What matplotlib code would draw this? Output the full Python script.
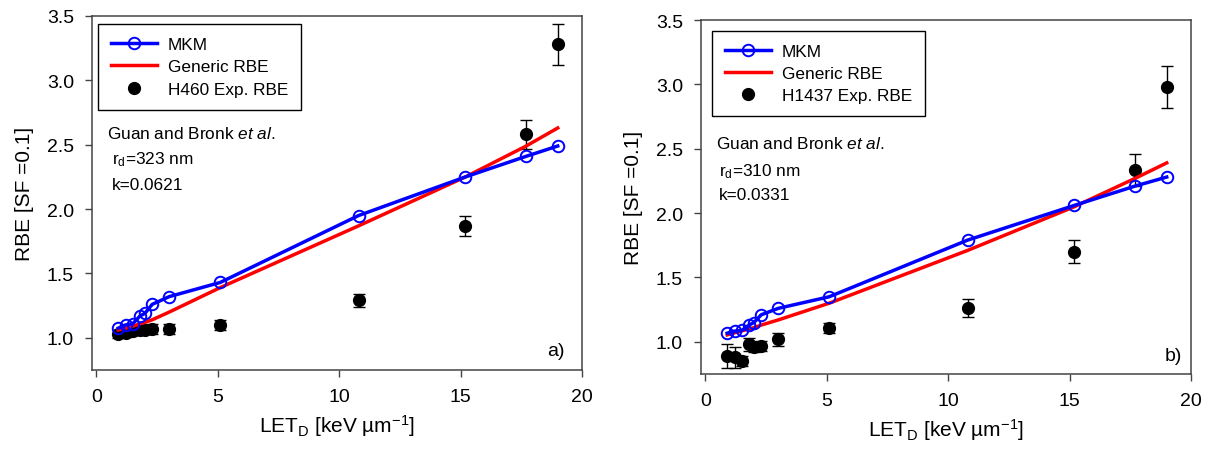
import matplotlib
matplotlib.use('Agg')
import matplotlib.pyplot as plt

plt.rcParams['font.family'] = ['Liberation Sans', 'DejaVu Sans']
plt.rcParams['mathtext.fontset'] = 'custom'
plt.rcParams['mathtext.rm'] = 'Liberation Sans'
plt.rcParams['mathtext.it'] = 'Liberation Sans:italic'
plt.rcParams['mathtext.bf'] = 'Liberation Sans:bold'

# ---- data ----
let_vals = [0.9, 1.2, 1.5, 1.8, 2.0, 2.3, 3.0, 5.1, 10.8, 15.2, 17.7, 19.0]

mkm_a = [1.075, 1.10, 1.11, 1.17, 1.19, 1.26, 1.32, 1.43, 1.95, 2.25, 2.41, 2.49]
gen_a = [1.06, 1.075, 1.09, 1.11, 1.12, 1.14, 1.20, 1.39, 1.87, 2.25, 2.49, 2.63]
exp_a = [1.03, 1.04, 1.05, 1.06, 1.06, 1.07, 1.07, 1.10, 1.29, 1.87, 2.58, 3.28]
err_a = [0.03, 0.03, 0.03, 0.03, 0.03, 0.04, 0.04, 0.04, 0.05, 0.08, 0.11, 0.16]

mkm_b = [1.067, 1.083, 1.088, 1.13, 1.15, 1.21, 1.26, 1.35, 1.79, 2.06, 2.21, 2.28]
gen_b = [1.054, 1.07, 1.085, 1.10, 1.11, 1.13, 1.17, 1.30, 1.71, 2.05, 2.27, 2.39]
exp_b = [0.89, 0.88, 0.85, 0.98, 0.96, 0.97, 1.02, 1.11, 1.26, 1.70, 2.335, 2.98]
err_b = [0.095, 0.08, 0.04, 0.05, 0.04, 0.04, 0.05, 0.04, 0.07, 0.09, 0.125, 0.165]

cell_lines = ['H460', 'H1437']
rd_vals = ['323', '310']
k_vals = ['0.0621', '0.0331']
panel_tags = ['a)', 'b)']

x_ticks = [0, 5, 10, 15, 20]
y_ticks = [1.0, 1.5, 2.0, 2.5, 3.0, 3.5]

W, H = 1218, 460
fig = plt.figure(figsize=(W / 100, H / 100), dpi=100)

def px_axes(l, r, t, b):
    return [l / W, (H - b) / H, (r - l) / W, (b - t) / H]

axes = [fig.add_axes(px_axes(92, 582, 17, 371)),
        fig.add_axes(px_axes(701, 1191, 21, 375))]

panels = [(mkm_a, gen_a, exp_a, err_a), (mkm_b, gen_b, exp_b, err_b)]
leg_anchor = [(0.012, 0.977), (0.022, 0.970)]
txt_pos = [(0.031, 0.669, 0.040, 0.596, 0.525), (0.031, 0.653, 0.037, 0.574, 0.508)]
tag_pos = [(0.965, 0.055), (0.981, 0.052)]
spine_col = '#444444'
fs_txt = 12.4

for i, ax in enumerate(axes):
    mkm, gen, exp, err = panels[i]
    ax.errorbar(let_vals, exp, yerr=err, fmt='none', ecolor='black',
                elinewidth=1.0, capsize=4, capthick=1.0, zorder=2)
    h_exp, = ax.plot(let_vals, exp, 'o', color='black', markersize=8.5,
                     zorder=3, label=f'{cell_lines[i]} Exp. RBE')
    h_gen, = ax.plot(let_vals, gen, '-', color='#ff0000', lw=2.5, zorder=4,
                     label='Generic RBE')
    h_mkm, = ax.plot(let_vals, mkm, '-o', color='#0000ff', lw=2.5,
                     markersize=8.3, markerfacecolor='none', markeredgewidth=1.4,
                     zorder=5, label='MKM')
    ax.set_xlim(-0.18, 20)
    ax.set_ylim(0.75, 3.5)
    ax.set_xticks(x_ticks)
    ax.set_xticklabels([str(v) for v in x_ticks])
    ax.set_yticks(y_ticks)
    ax.set_yticklabels([f'{v:.1f}' for v in y_ticks])
    ax.tick_params(axis='both', direction='out', length=5, width=1.0,
                   color=spine_col, labelsize=14, pad=8)
    for s in ax.spines.values():
        s.set_color(spine_col)
        s.set_linewidth(1.1)
    ax.set_xlabel('LET$_\\mathrm{D}$ [keV \u00b5m$^{-1}$]', fontsize=15, labelpad=5)
    ax.set_ylabel('RBE [SF =0.1]', fontsize=15, labelpad=9)

    leg = ax.legend(handles=[h_mkm, h_gen, h_exp], loc='upper left',
                    bbox_to_anchor=leg_anchor[i], borderaxespad=0,
                    fontsize=fs_txt, frameon=True, fancybox=False,
                    edgecolor='black', handlelength=2.7, handletextpad=0.6,
                    borderpad=0.75, labelspacing=0.42, framealpha=1)
    leg.get_frame().set_linewidth(1.0)

    tx, ty1, tx2, ty2, ty3 = txt_pos[i]
    ax.text(tx, ty1, r'Guan and Bronk $\mathit{et\ al.}$', transform=ax.transAxes,
            fontsize=fs_txt, va='center', ha='left')
    ax.text(tx2, ty2, r'r$_\mathrm{d}$=' + rd_vals[i] + ' nm', transform=ax.transAxes,
            fontsize=fs_txt, va='center', ha='left')
    ax.text(tx2, ty3, 'k=' + k_vals[i], transform=ax.transAxes,
            fontsize=fs_txt, va='center', ha='left')
    ax.text(tag_pos[i][0], tag_pos[i][1], panel_tags[i], transform=ax.transAxes,
            fontsize=14, va='center', ha='right')

fig.savefig('out.png', dpi=100)
